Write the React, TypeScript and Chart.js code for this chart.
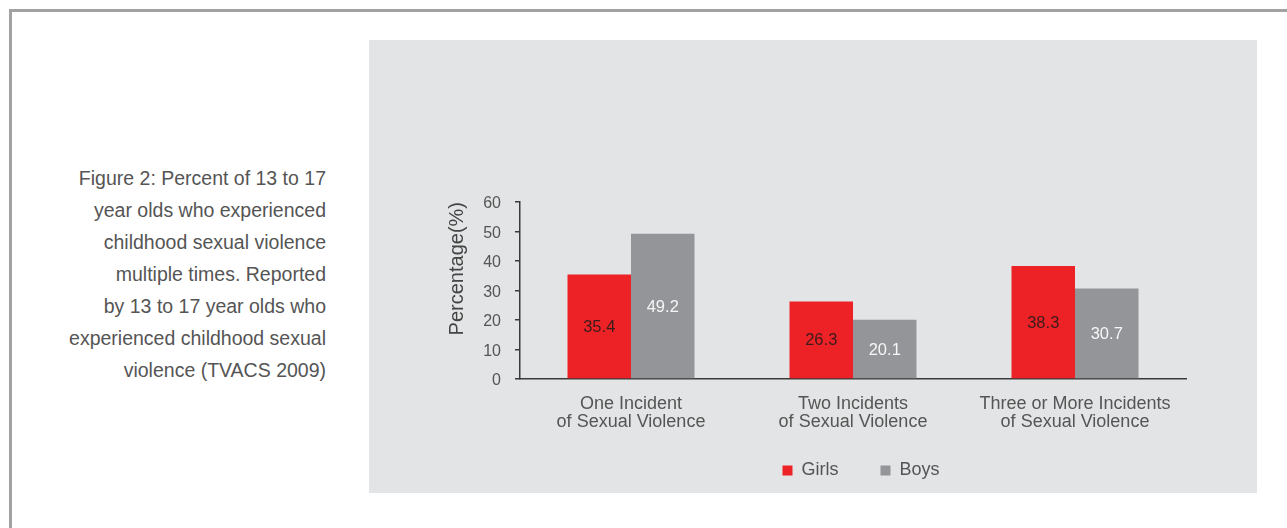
import React, { useEffect, useRef } from "react";
import { Chart, registerables } from "chart.js";

Chart.register(...registerables);

const categories: string[][] = [
  ["One Incident", "of Sexual Violence"],
  ["Two Incidents", "of Sexual Violence"],
  ["Three or More Incidents", "of Sexual Violence"],
];
const seriesNames = ["Girls", "Boys"];
const girlsValues = [35.4, 26.3, 38.3];
const boysValues = [49.2, 20.1, 30.7];
const yMin = 0;
const yMax = 60;
const yStep = 10;
const yTitle = "Percentage(%)";
const captionLines = [
  "Figure 2: Percent of 13 to 17",
  "year olds who experienced",
  "childhood sexual violence",
  "multiple times. Reported",
  "by 13 to 17 year olds who",
  "experienced childhood sexual",
  "violence (TVACS 2009)",
];

const FONT = "'Liberation Sans', Arial, Helvetica, sans-serif";
const RED = "#ed2226";
const GRAY = "#939598";
const TEXT = "#555555";
const AXIS = "#3a3a3a";

const valueLabels = {
  id: "valueLabels",
  afterDatasetsDraw(chart: any) {
    const ctx = chart.ctx;
    const colors = ["#3a1c1c", "#f6f6f6"];
    ctx.save();
    ctx.font = `16.5px ${FONT}`;
    ctx.textAlign = "center";
    ctx.textBaseline = "middle";
    chart.data.datasets.forEach((ds: any, di: number) => {
      const meta = chart.getDatasetMeta(di);
      meta.data.forEach((bar: any, i: number) => {
        const v = ds.data[i];
        const y = (bar.y + bar.base) / 2;
        ctx.fillStyle = colors[di];
        ctx.fillText(v.toFixed(1), bar.x, y + 1);
      });
    });
    ctx.restore();
  },
};

export default function App() {
  const ref = useRef<HTMLCanvasElement | null>(null);

  useEffect(() => {
    if (!ref.current) return;
    const chart = new Chart(ref.current, {
      type: "bar",
      data: {
        labels: categories,
        datasets: [
          {
            label: seriesNames[0],
            data: girlsValues,
            backgroundColor: RED,
            borderWidth: 0,
            categoryPercentage: 0.572,
            barPercentage: 1,
          },
          {
            label: seriesNames[1],
            data: boysValues,
            backgroundColor: GRAY,
            borderWidth: 0,
            categoryPercentage: 0.572,
            barPercentage: 1,
          },
        ],
      },
      options: {
        responsive: false,
        animation: false,
        devicePixelRatio: 1,
        layout: { padding: { top: 162, right: 0, left: 0, bottom: 3.5 } },
        plugins: {
          tooltip: { enabled: false },
          legend: {
            position: "bottom",
            fullSize: true,
            labels: {
              boxWidth: 10,
              boxHeight: 10,
              padding: 42,
              color: TEXT,
              font: { family: FONT, size: 18 },
            },
          },
        },
        scales: {
          x: {
            grid: { display: false },
            border: { display: true, color: AXIS, width: 1.5 },
            ticks: {
              color: TEXT,
              padding: -34,
              mirror: true,
              maxRotation: 0,
              autoSkip: false,
              font: { family: FONT, size: 18, lineHeight: 0.97 },
            },
            afterFit: (s: any) => {
              s.height = 40.5;
            },
          },
          y: {
            min: yMin,
            max: yMax,
            grid: {
              display: true,
              drawOnChartArea: false,
              drawTicks: true,
              tickLength: 5,
              color: AXIS,
              lineWidth: 1.5,
            },
            border: { display: true, color: AXIS, width: 1.5 },
            ticks: {
              stepSize: yStep,
              color: TEXT,
              padding: 14,
              labelOffset: 2,
              font: { family: FONT, size: 16 },
            },
            title: {
              display: true,
              text: yTitle,
              align: "end",
              color: "#444444",
              padding: { top: 5, bottom: 0 },
              font: { family: FONT, size: 20 },
            },
            afterFit: (s: any) => {
              s.width = 80;
            },
          },
          yRightSpace: {
            position: "right",
            display: true,
            grid: { display: false },
            border: { display: false },
            ticks: { display: false },
            afterFit: (s: any) => {
              s.width = 96;
            },
          },
        },
      },
      plugins: [valueLabels],
    });
    return () => chart.destroy();
  }, []);

  return (
    <div
      style={{
        position: "fixed",
        left: 0,
        top: 0,
        width: 1287,
        height: 528,
        background: "#ffffff",
        overflow: "hidden",
        fontFamily: FONT,
      }}
    >
      <div
        style={{
          position: "absolute",
          left: 9,
          top: 9,
          width: 1300,
          height: 540,
          borderTop: "3px solid #a2a2a2",
          borderLeft: "3px solid #a2a2a2",
          boxSizing: "border-box",
        }}
      />
      <div
        style={{
          position: "absolute",
          left: 369,
          top: 40,
          width: 888,
          height: 453,
          background: "#e3e4e5",
        }}
      />
      <div
        style={{
          position: "absolute",
          right: 1287 - 326,
          top: 162,
          textAlign: "right",
          color: TEXT,
          fontSize: 19.5,
          lineHeight: "32px",
          whiteSpace: "nowrap",
        }}
      >
        {captionLines.map((l, i) => (
          <div key={i}>{l}</div>
        ))}
      </div>
      <canvas
        ref={ref}
        width={842}
        height={453}
        style={{ position: "absolute", left: 440, top: 40, width: 842, height: 453 }}
      />
    </div>
  );
}
